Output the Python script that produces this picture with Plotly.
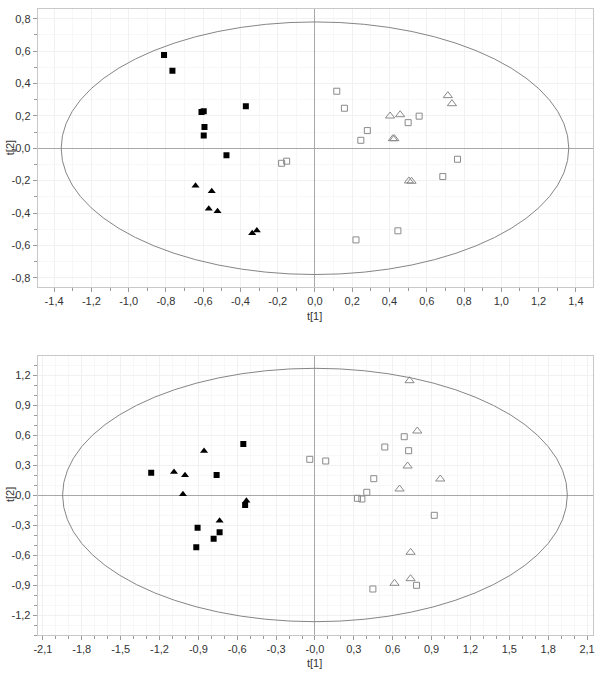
import plotly.graph_objects as go

# ---------------- Top score plot (t[1] vs t[2]) ----------------
top_fsq_x = [-0.81, -0.765, -0.609, -0.597, -0.593, -0.597, -0.371, -0.475]
top_fsq_y = [0.576, 0.479, 0.224, 0.228, 0.131, 0.078, 0.259, -0.043]

top_ftri_x = [-0.641, -0.554, -0.570, -0.523, -0.337, -0.312]
top_ftri_y = [-0.231, -0.266, -0.373, -0.389, -0.525, -0.508]

top_osq_x = [-0.179, -0.152, 0.117, 0.158, 0.281, 0.246, 0.500, 0.559, 0.765, 0.686, 0.445, 0.220]
top_osq_y = [-0.093, -0.080, 0.352, 0.247, 0.109, 0.049, 0.158, 0.198, -0.068, -0.175, -0.510, -0.566]

top_otri_x = [0.403, 0.457, 0.713, 0.735, 0.418, 0.426, 0.504, 0.518]
top_otri_y = [0.199, 0.207, 0.325, 0.275, 0.059, 0.059, -0.202, -0.204]

top_ell_a = 1.362
top_ell_b = 0.780

top_xticks = [-1.4, -1.2, -1.0, -0.8, -0.6, -0.4, -0.2, 0.0, 0.2, 0.4, 0.6, 0.8, 1.0, 1.2, 1.4]
top_xtext = ["-1,4", "-1,2", "-1,0", "-0,8", "-0,6", "-0,4", "-0,2", "0,0", "0,2", "0,4", "0,6", "0,8", "1,0", "1,2", "1,4"]
top_yticks = [0.8, 0.6, 0.4, 0.2, 0.0, -0.2, -0.4, -0.6, -0.8]
top_ytext = ["0,8", "0,6", "0,4", "0,2", "-0,0", "-0,2", "-0,4", "-0,6", "-0,8"]

# ---------------- Bottom score plot ----------------
bot_fsq_x = [-1.264, -0.553, -0.759, -0.539, -0.906, -0.736, -0.782, -0.916]
bot_fsq_y = [0.223, 0.510, 0.200, -0.100, -0.327, -0.373, -0.437, -0.523]

bot_ftri_x = [-0.856, -1.088, -1.003, -1.019, -0.529, -0.736]
bot_ftri_y = [0.440, 0.230, 0.197, 0.007, -0.057, -0.257]

bot_osq_x = [-0.040, 0.083, 0.689, 0.539, 0.723, 0.454, 0.400, 0.328, 0.362, 0.921, 0.447, 0.784]
bot_osq_y = [0.357, 0.340, 0.583, 0.480, 0.443, 0.163, 0.027, -0.033, -0.040, -0.203, -0.940, -0.903]

bot_otri_x = [0.730, 0.790, 0.715, 0.967, 0.653, 0.738, 0.738, 0.614]
bot_otri_y = [1.143, 0.640, 0.290, 0.160, 0.060, -0.573, -0.837, -0.883]

bot_ell_a = 1.948
bot_ell_b = 1.267

bot_xticks = [-2.1, -1.8, -1.5, -1.2, -0.9, -0.6, -0.3, 0.0, 0.3, 0.6, 0.9, 1.2, 1.5, 1.8, 2.1]
bot_xtext = ["-2,1", "-1,8", "-1,5", "-1,2", "-0,9", "-0,6", "-0,3", "-0,0", "0,3", "0,6", "0,9", "1,2", "1,5", "1,8", "2,1"]
bot_yticks = [1.2, 0.9, 0.6, 0.3, 0.0, -0.3, -0.6, -0.9, -1.2]
bot_ytext = ["1,2", "0,9", "0,6", "0,3", "0,0", "-0,3", "-0,6", "-0,9", "-1,2"]

W, H = 602, 679
FONT = "Liberation Sans, Arial, sans-serif"
TXT = "#333333"
GRAY = "#8a8a8a"

fig = go.Figure()


def add_points(xs, ys, symbol, size, filled, xa, ya):
    if filled:
        marker = dict(symbol=symbol, size=size, color="black", line=dict(width=0))
    else:
        marker = dict(symbol=symbol, size=size, color=GRAY, line=dict(width=1, color=GRAY))
    fig.add_trace(go.Scatter(x=xs, y=ys, mode="markers", marker=marker,
                             xaxis=xa, yaxis=ya, showlegend=False, hoverinfo="x+y"))


add_points(top_fsq_x, top_fsq_y, "square", 6, True, "x", "y")
add_points(top_ftri_x, top_ftri_y, "triangle-up", 7, True, "x", "y")
add_points(top_osq_x, top_osq_y, "square-open", 6, False, "x", "y")
add_points(top_otri_x, top_otri_y, "triangle-up-open", 8, False, "x", "y")

add_points(bot_fsq_x, bot_fsq_y, "square", 6, True, "x2", "y2")
add_points(bot_ftri_x, bot_ftri_y, "triangle-up", 7, True, "x2", "y2")
add_points(bot_osq_x, bot_osq_y, "square-open", 6, False, "x2", "y2")
add_points(bot_otri_x, bot_otri_y, "triangle-up-open", 8, False, "x2", "y2")

# Hotelling ellipses
fig.add_shape(type="circle", xref="x", yref="y", x0=-top_ell_a, x1=top_ell_a,
              y0=-top_ell_b, y1=top_ell_b, line=dict(color="#858585", width=1), layer="above")
fig.add_shape(type="circle", xref="x2", yref="y2", x0=-bot_ell_a, x1=bot_ell_a,
              y0=-bot_ell_b, y1=bot_ell_b, line=dict(color="#858585", width=1), layer="above")

L, R = 37.7 / W, 593 / W
top_dom = [(H - 287) / H, (H - 9.3) / H]
bot_dom = [(H - 635) / H, (H - 355.7) / H]


def axis_common(tickvals, ticktext, rng, dom, minor_dtick, anchor):
    return dict(
        range=rng, domain=dom, anchor=anchor, automargin=False,
        tickmode="array", tickvals=tickvals, ticktext=ticktext,
        ticks="outside", ticklen=4, tickcolor="#9a9a9a", tickwidth=1,
        tickfont=dict(family=FONT, size=11, color=TXT),
        showline=True, mirror=True, linecolor="#c8c8c8", linewidth=1,
        showgrid=True, gridcolor="#f1f1f1", gridwidth=1,
        zeroline=True, zerolinecolor="#a8a8a8", zerolinewidth=1,
        minor=dict(ticks="outside", ticklen=3, tickcolor="#9a9a9a", dtick=minor_dtick,
                   tick0=0, showgrid=True, gridcolor="#f7f7f7"),
        fixedrange=True,
    )


fig.update_layout(
    width=W, height=H,
    margin=dict(l=0, r=0, t=0, b=0),
    paper_bgcolor="white", plot_bgcolor="white",
    font=dict(family=FONT, size=11, color=TXT),
    xaxis=axis_common(top_xticks, top_xtext, [-1.488, 1.492], [L, R], 0.1, "y"),
    yaxis=axis_common(top_yticks, top_ytext, [-0.857, 0.858], top_dom, 0.1, "x"),
    xaxis2=axis_common(bot_xticks, bot_xtext, [-2.14, 2.146], [L, R], 0.1, "y2"),
    yaxis2=axis_common(bot_yticks, bot_ytext, [-1.40, 1.393], bot_dom, 0.1, "x2"),
)

annos = [
    dict(text="t[1]", xref="x", x=0, yref="paper", y=(H - 316) / H, showarrow=False,
         font=dict(family=FONT, size=11, color=TXT), xanchor="center", yanchor="middle"),
    dict(text="t[1]", xref="x2", x=0, yref="paper", y=(H - 663) / H, showarrow=False,
         font=dict(family=FONT, size=11, color=TXT), xanchor="center", yanchor="middle"),
    dict(text="t[2]", xref="paper", x=10 / W, yref="y", y=0, showarrow=False, textangle=-90,
         font=dict(family=FONT, size=11, color=TXT), xanchor="center", yanchor="middle"),
    dict(text="t[2]", xref="paper", x=10 / W, yref="y2", y=0, showarrow=False, textangle=-90,
         font=dict(family=FONT, size=11, color=TXT), xanchor="center", yanchor="middle"),
]
fig.update_layout(annotations=annos)

fig.write_html(
    "out.html",
    config={"displayModeBar": False},
    post_script="document.body.style.margin='0';document.body.style.overflow='hidden';",
)
